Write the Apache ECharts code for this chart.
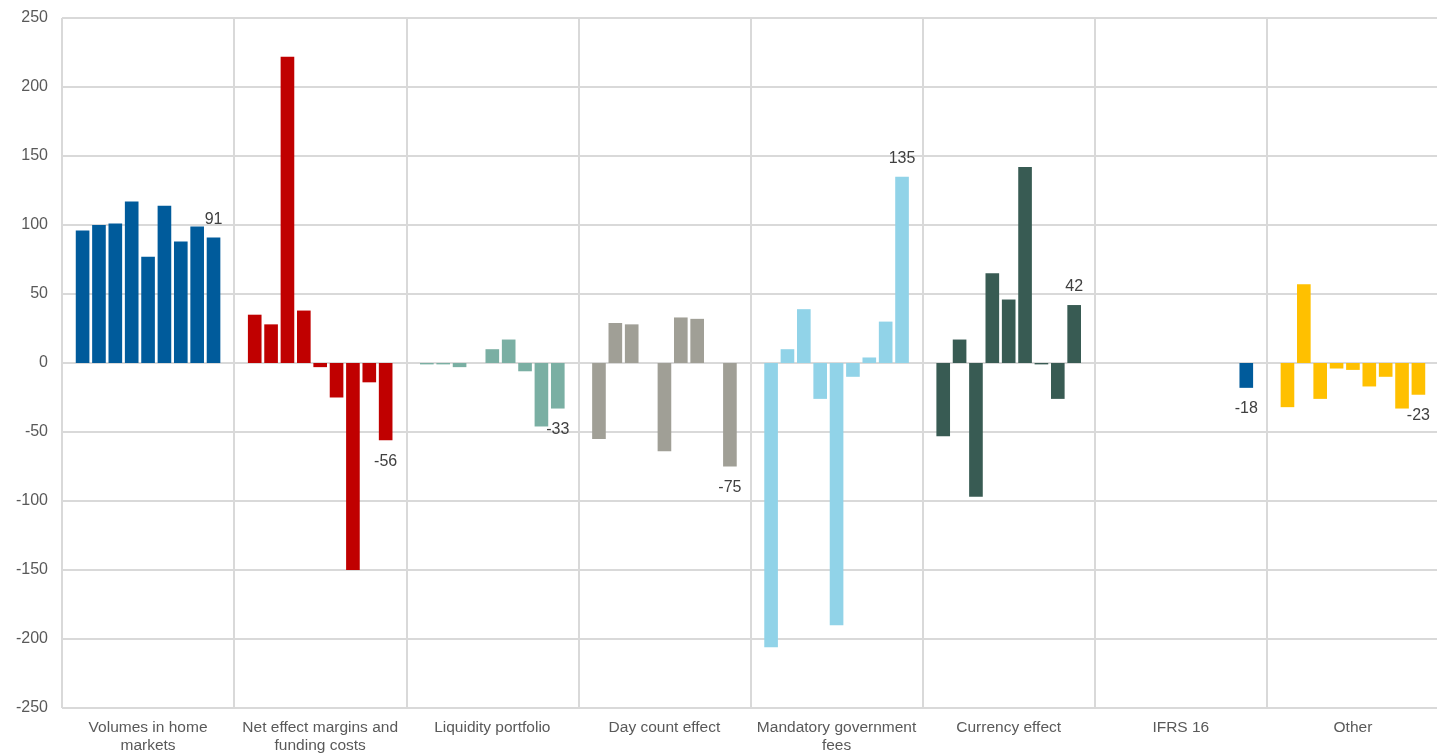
<!DOCTYPE html>
<html>
<head>
<meta charset="utf-8">
<title>Net interest income drivers</title>
<script src="https://cdn.jsdelivr.net/npm/echarts@6/dist/echarts.min.js"></script>
<style>
  html, body { margin: 0; padding: 0; background: #fff; }
  #chart { width: 1437px; height: 755px; }
</style>
</head>
<body>
<div id="chart"></div>
<script>
// categories (x axis)
const categories = [
  'Volumes in home\nmarkets',
  'Net effect margins and\nfunding costs',
  'Liquidity portfolio',
  'Day count effect',
  'Mandatory government\nfees',
  'Currency effect',
  'IFRS 16',
  'Other'
]

// nine bars per category
const volumes   = [96, 100, 101, 117, 77, 114, 88, 99, 91]
const netMargin = [35, 28, 222, 38, -3, -25, -150, -14, -56]
const liquidity = [-1, -1, -3, 0, 10, 17, -6, -46, -33]
const dayCount  = [-55, 29, 28, 0, -64, 33, 32, 0, -75]
const govFees   = [-206, 10, 39, -26, -190, -10, 4, 30, 135]
const currency  = [-53, 17, -97, 65, 46, 142, -1, -26, 42]
const ifrs16    = [0, 0, 0, 0, 0, 0, 0, 0, -18]
const other     = [-32, 57, -26, -4, -5, -17, -10, -33, -23]

const yTicks = { min: -250, max: 250, interval: 50 }

const groups = [volumes, netMargin, liquidity, dayCount, govFees, currency, ifrs16, other]
const groupColors = ['#005B9B', '#C00000', '#7AAFA3', '#A09F96', '#91D3E8', '#385B53', '#005B9B', '#FFC000']

const nBars = volumes.length

const series = []
for (let i = 0; i < nBars; i++) {
  const isLast = i === nBars - 1
  series.push({
    type: 'bar',
    name: 'bar' + (i + 1),
    barGap: '20%',
    barCategoryGap: '16%',
    data: groups.map((g, c) => {
      const v = g[i]
      const item = { value: v, itemStyle: { color: groupColors[c] } }
      // only the latest bar of each group carries a value label
      if (isLast) {
        item.label = {
          show: true,
          position: v >= 0 ? 'top' : 'bottom',
          distance: v >= 0 ? 10 : 13
        }
      }
      return item
    }),
    label: {
      show: false,
      color: '#404040',
      fontSize: 16,
      fontFamily: 'Liberation Sans, Arial, sans-serif'
    }
  })
}

const chart = echarts.init(document.getElementById('chart'), null, { renderer: 'canvas' })

chart.setOption({
  backgroundColor: '#fff',
  animation: false,
  textStyle: { fontFamily: 'Liberation Sans, Arial, sans-serif' },
  grid: {
    left: 62,
    width: 1377,   // last group border sits just off the canvas
    top: 18,
    bottom: 47,
    outerBoundsMode: 'none'
  },
  xAxis: {
    type: 'category',
    data: categories,
    axisLine: { show: false },
    axisTick: { show: false },
    axisLabel: {
      interval: 0,
      color: '#595959',
      fontSize: 15.5,
      lineHeight: 18,
      margin: 11
    },
    splitLine: {
      show: true,
      interval: 0,
      lineStyle: { color: '#d9d9d9', width: 2 }
    }
  },
  yAxis: {
    type: 'value',
    min: yTicks.min,
    max: yTicks.max,
    interval: yTicks.interval,
    axisLine: { show: false },
    axisTick: { show: false },
    axisLabel: {
      color: '#595959',
      fontSize: 16,
      margin: 14
    },
    splitLine: {
      lineStyle: { color: '#d9d9d9', width: 2 }
    }
  },
  series: series
})
</script>
</body>
</html>
